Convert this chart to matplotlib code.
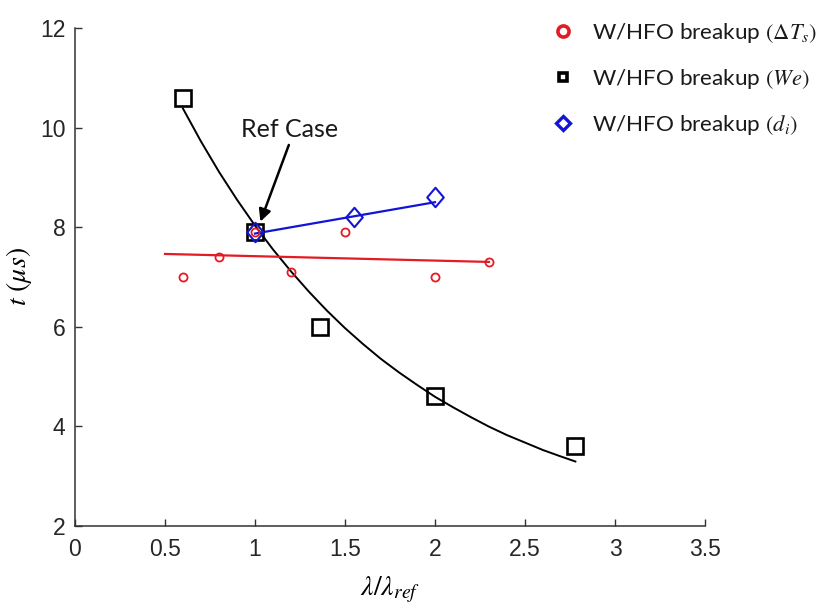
import matplotlib
matplotlib.use("Agg")
import matplotlib.pyplot as plt
from matplotlib.lines import Line2D
from matplotlib.path import Path

plt.rcParams['mathtext.fontset'] = 'stix'

# ---- data ----
dT_x = [0.6, 0.8, 1.0, 1.2, 1.5, 2.0, 2.3]
dT_y = [7.0, 7.4, 7.9, 7.1, 7.9, 7.0, 7.3]
dT_fit_x = [0.5, 2.3]
dT_fit_y = [7.46, 7.30]

we_x = [0.6, 1.0, 1.36, 2.0, 2.78]
we_y = [10.6, 7.9, 6.0, 4.6, 3.6]
we_fit_x = [0.6, 0.7, 0.8, 0.9, 1.0, 1.1, 1.2, 1.3, 1.4, 1.5, 1.6, 1.7, 1.8, 1.9,
            2.0, 2.1, 2.2, 2.3, 2.4, 2.5, 2.6, 2.7, 2.78]
we_fit_y = [10.38, 9.72, 9.11, 8.55, 8.03, 7.55, 7.11, 6.70, 6.32, 5.97, 5.65, 5.35,
            5.08, 4.83, 4.59, 4.38, 4.18, 3.99, 3.82, 3.67, 3.52, 3.39, 3.29]

di_x = [1.0, 1.55, 2.0]
di_y = [7.9, 8.2, 8.6]
di_fit_x = [1.0, 2.0]
di_fit_y = [7.87, 8.50]

labels = [r'W/HFO breakup $(\Delta T_s)$',
          r'W/HFO breakup $(We)$',
          r'W/HFO breakup $(d_i)$']
x_ticks = [0, 0.5, 1, 1.5, 2, 2.5, 3, 3.5]
x_tick_labels = ['0', '0.5', '1', '1.5', '2', '2.5', '3', '3.5']
y_ticks = [2, 4, 6, 8, 10, 12]
ref_label = 'Ref Case'
ref_tip = (1.03, 8.11)
ref_tail = (1.188, 9.65)
ref_text_pos = (1.19, 9.97)

RED = '#e31b23'
BLUE = '#1414d6'
AXC = '#333333'

W, H = 820, 608
fig = plt.figure(figsize=(W / 100, H / 100), dpi=100)
ax = fig.add_axes([75 / W, 1 - 525.7 / H, 630 / W, (525.7 - 28) / H])

diamond = Path([(0, 1), (0.85, 0), (0, -1), (-0.85, 0), (0, 1)],
               [Path.MOVETO, Path.LINETO, Path.LINETO, Path.LINETO, Path.CLOSEPOLY])

# fit lines
ax.plot(we_fit_x, we_fit_y, color='black', lw=1.4, zorder=2, solid_joinstyle='round')
ax.plot(dT_fit_x, dT_fit_y, color=RED, lw=1.6, zorder=2)
ax.plot(di_fit_x, di_fit_y, color=BLUE, lw=1.6, zorder=2)

# markers
ax.plot(we_x, we_y, ls='none', marker='s', ms=11, mfc='none', mec='black', mew=1.9, zorder=3)
ax.plot(di_x, di_y, ls='none', marker=diamond, ms=14, mfc='none', mec=BLUE, mew=1.5, zorder=4)
ax.plot(dT_x, dT_y, ls='none', marker='o', ms=5.8, mfc='none', mec=RED, mew=1.3, zorder=5)

# annotation
ax.annotate('', xy=ref_tip, xytext=ref_tail,
            arrowprops=dict(arrowstyle='-|>', color='black', lw=1.8,
                            mutation_scale=18, shrinkA=0, shrinkB=0), zorder=6)
ax.text(ref_text_pos[0], ref_text_pos[1], ref_label, ha='center', va='center',
        fontsize=18, family=['Lato', 'DejaVu Sans'], color='#1a1a1a')

ax.set_xlim(0, 3.5)
ax.set_ylim(2, 12)
ax.set_xticks(x_ticks)
ax.set_xticklabels(x_tick_labels)
ax.set_yticks(y_ticks)
for s in ['top', 'right']:
    ax.spines[s].set_visible(False)
for s in ['left', 'bottom']:
    ax.spines[s].set_color(AXC)
    ax.spines[s].set_linewidth(1.1)
ax.tick_params(direction='in', length=5, width=1.0, color=AXC, labelcolor='#262626',
               labelsize=16.5)
ax.tick_params(axis='x', pad=9)
ax.tick_params(axis='y', pad=7)
for lab in ax.get_xticklabels() + ax.get_yticklabels():
    lab.set_family(['Liberation Sans', 'DejaVu Sans'])

ax.set_xlabel(r'$\lambda/\lambda_{ref}$', fontsize=20, labelpad=10)
ax.set_ylabel(r'$t\ (\mu s)$', fontsize=20, labelpad=4)

# legend
handles = [
    Line2D([], [], ls='none', marker='o', ms=8, mfc='none', mec=RED, mew=2.6),
    Line2D([], [], ls='none', marker='s', ms=6, mfc='none', mec='black', mew=2.6),
    Line2D([], [], ls='none', marker='D', ms=7.5, mfc='none', mec=BLUE, mew=2.4),
]
leg = ax.legend(handles, labels, loc='upper left', bbox_to_anchor=(551.7 / W, 1 - 21 / H),
                bbox_transform=fig.transFigure, frameon=False, borderpad=0,
                borderaxespad=0, handlelength=1.0, handletextpad=0.79,
                labelspacing=0.98, prop={'family': ['Lato', 'DejaVu Sans'], 'size': 16.2})
for t in leg.get_texts():
    t.set_color('#1a1a1a')

fig.savefig('out.png', dpi=100)
